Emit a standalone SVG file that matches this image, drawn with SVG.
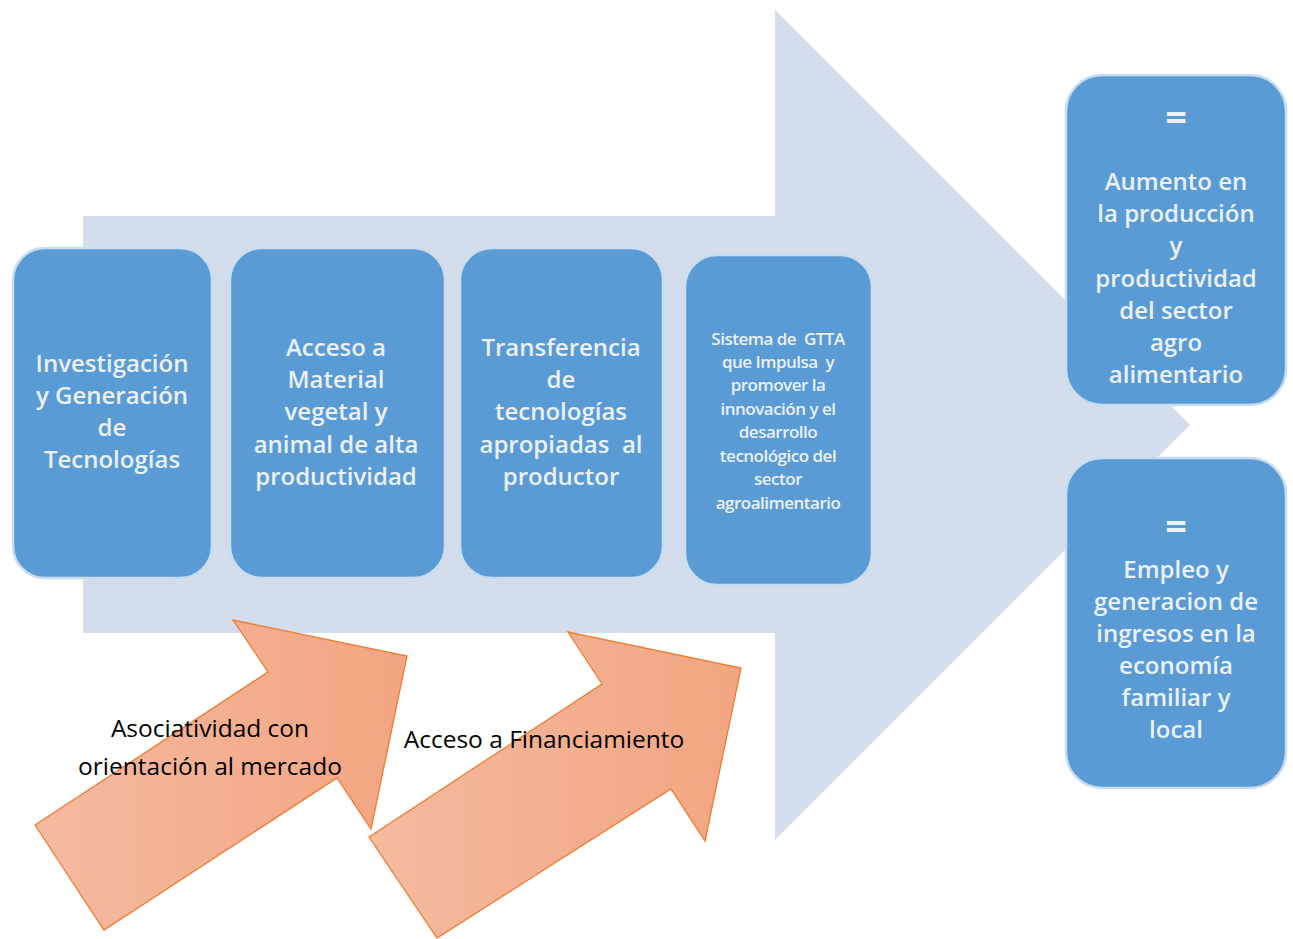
<svg xmlns="http://www.w3.org/2000/svg" width="1293" height="939" viewBox="0 0 1293 939">
<style>
text{white-space:pre}
.box{fill:#5B9BD5;stroke:#C9DDF1;stroke-width:2.5}
.bt{font-family:"Open Sans","Liberation Sans",sans-serif;font-size:24px;font-weight:600;fill:#EAF1F9;text-anchor:middle}
.eq{font-family:"Open Sans","Liberation Sans",sans-serif;font-size:38px;font-weight:700;fill:#EAF1F9;text-anchor:middle}
.st{font-family:"Open Sans","Liberation Sans",sans-serif;font-size:17px;font-weight:600;fill:#EAF1F9;text-anchor:middle;letter-spacing:-0.5px}
.ot{font-family:"Open Sans","Liberation Sans",sans-serif;font-size:24.5px;fill:#000;text-anchor:middle}
.oa{fill:url(#og);stroke:#ED7D31;stroke-width:1.3}
</style>
<defs>
<linearGradient id="og" x1="0" y1="0" x2="1" y2="0">
<stop offset="0" stop-color="#F5BAA1"/>
<stop offset="1" stop-color="#F3A581"/>
</linearGradient>
</defs>
<rect width="1293" height="939" fill="#FFFFFF"/>
<g id="connectors">
<polygon id="flow-arrow" points="83,216 775,216 775,10 1190,425 775,840 775,633 83,633" fill="#D4DDEC"/>
</g>
<g id="node-investigacion">
<rect class="box" x="13" y="248" width="199" height="330" rx="32"/>
<text class="bt" x="112"><tspan x="112" y="372">Investigación</tspan><tspan x="112" y="404">y Generación</tspan><tspan x="112" y="436">de</tspan><tspan x="112" y="468">Tecnologías</tspan></text>
</g>
<g id="node-material">
<rect class="box" x="230" y="248" width="215" height="330" rx="32"/>
<text class="bt" x="336"><tspan x="336" y="356">Acceso a</tspan><tspan x="336" y="388">Material</tspan><tspan x="336" y="420">vegetal y</tspan><tspan x="336" y="453">animal de alta</tspan><tspan x="336" y="485">productividad</tspan></text>
</g>
<g id="node-transferencia">
<rect class="box" x="460" y="248" width="203" height="330" rx="32"/>
<text class="bt" x="561"><tspan x="561" y="356">Transferencia</tspan><tspan x="561" y="388">de</tspan><tspan x="561" y="420">tecnologías</tspan><tspan x="561" y="453">apropiadas  al</tspan><tspan x="561" y="485">productor</tspan></text>
</g>
<g id="node-sistema">
<rect class="box" x="685" y="255" width="187" height="330" rx="32"/>
<text class="st" x="778"><tspan x="778" y="345">Sistema de  GTTA</tspan><tspan x="778" y="368">que Impulsa  y</tspan><tspan x="778" y="391">promover la</tspan><tspan x="778" y="415">innovación y el</tspan><tspan x="778" y="438">desarrollo</tspan><tspan x="778" y="462">tecnológico del</tspan><tspan x="778" y="485">sector</tspan><tspan x="778" y="509">agroalimentario</tspan></text>
</g>
<g id="node-aumento">
<rect class="box" x="1066" y="75" width="220" height="330" rx="36"/>
<text class="eq" x="1176" y="131">=</text>
<text class="bt" x="1176"><tspan x="1176" y="190">Aumento en</tspan><tspan x="1176" y="222">la producción</tspan><tspan x="1176" y="254">y</tspan><tspan x="1176" y="287">productividad</tspan><tspan x="1176" y="319">del sector</tspan><tspan x="1176" y="351">agro</tspan><tspan x="1176" y="383">alimentario</tspan></text>
</g>
<g id="node-empleo">
<rect class="box" x="1066" y="458" width="220" height="330" rx="36"/>
<text class="eq" x="1176" y="540">=</text>
<text class="bt" x="1176"><tspan x="1176" y="578">Empleo y</tspan><tspan x="1176" y="610">generacion de</tspan><tspan x="1176" y="642">ingresos en la</tspan><tspan x="1176" y="674">economía</tspan><tspan x="1176" y="706">familiar y</tspan><tspan x="1176" y="738">local</tspan></text>
</g>
<g id="node-asociatividad">
<polygon class="oa" points="35,825 268,672 233,620 407,656 371,829 337,778 104,930"/>
<text class="ot" x="210"><tspan x="210" y="737">Asociatividad con</tspan><tspan x="210" y="775">orientación al mercado</tspan></text>
</g>
<g id="node-financiamiento">
<polygon class="oa" points="369,837 602,684 568,632 741,668 705,841 671,789 437,938"/>
<text class="ot" x="544" y="748">Acceso a Financiamiento</text>
</g>
</svg>
